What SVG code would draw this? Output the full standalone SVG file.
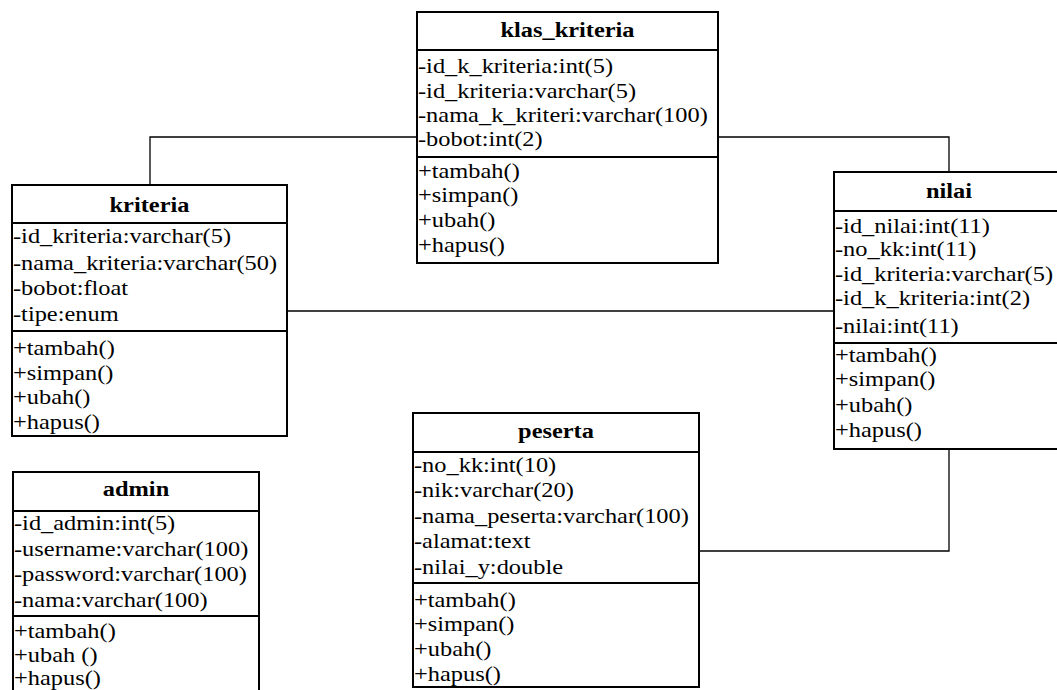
<svg xmlns="http://www.w3.org/2000/svg" width="1057" height="690" viewBox="0 0 1057 690">
<style>
.box{fill:#fff;stroke:#000;stroke-width:2}
.sep{stroke:#000;stroke-width:2}
.t{font-family:"Liberation Serif","Times New Roman",serif;font-size:20px;fill:#000}
.h{font-family:"Liberation Serif","Times New Roman",serif;font-size:20px;font-weight:bold;fill:#000;text-anchor:middle}
.c{fill:none;stroke:#000;stroke-width:1.3}
</style>
<rect width="1057" height="690" fill="#fff"/>
<g id="connectors">
<polyline class="c" points="150,185 150,137 417,137"/>
<polyline class="c" points="718,137 949,137 949,172"/>
<line class="c" x1="287" y1="311" x2="834" y2="311"/>
<polyline class="c" points="699,551 949,551 949,449"/>
</g>
<g id="klas_kriteria">
<rect class="box" x="417" y="12" width="301" height="251"/>
<line class="sep" x1="417" y1="50" x2="718" y2="50"/>
<line class="sep" x1="417" y1="157" x2="718" y2="157"/>
<text class="h" transform="translate(567.5,37) scale(1.22,1)">klas_kriteria</text>
<text class="t" transform="translate(418,73) scale(1.22,1)">-id_k_kriteria:int(5)</text>
<text class="t" transform="translate(418,98) scale(1.22,1)">-id_kriteria:varchar(5)</text>
<text class="t" transform="translate(418,122) scale(1.22,1)">-nama_k_kriteri:varchar(100)</text>
<text class="t" transform="translate(418,146) scale(1.22,1)">-bobot:int(2)</text>
<text class="t" transform="translate(418,178) scale(1.22,1)">+tambah()</text>
<text class="t" transform="translate(418,202) scale(1.22,1)">+simpan()</text>
<text class="t" transform="translate(418,227) scale(1.22,1)">+ubah()</text>
<text class="t" transform="translate(418,252) scale(1.22,1)">+hapus()</text>
</g>
<g id="kriteria">
<rect class="box" x="12" y="185" width="275" height="251"/>
<line class="sep" x1="12" y1="223" x2="287" y2="223"/>
<line class="sep" x1="12" y1="331" x2="287" y2="331"/>
<text class="h" transform="translate(149.5,212) scale(1.22,1)">kriteria</text>
<text class="t" transform="translate(13,243) scale(1.22,1)">-id_kriteria:varchar(5)</text>
<text class="t" transform="translate(13,270) scale(1.22,1)">-nama_kriteria:varchar(50)</text>
<text class="t" transform="translate(13,295) scale(1.22,1)">-bobot:float</text>
<text class="t" transform="translate(13,321) scale(1.22,1)">-tipe:enum</text>
<text class="t" transform="translate(13,355) scale(1.22,1)">+tambah()</text>
<text class="t" transform="translate(13,380) scale(1.22,1)">+simpan()</text>
<text class="t" transform="translate(13,404) scale(1.22,1)">+ubah()</text>
<text class="t" transform="translate(13,429) scale(1.22,1)">+hapus()</text>
</g>
<g id="nilai">
<rect class="box" x="834" y="172" width="240" height="277"/>
<line class="sep" x1="834" y1="211" x2="1057" y2="211"/>
<line class="sep" x1="834" y1="343" x2="1057" y2="343"/>
<text class="h" transform="translate(949,198) scale(1.22,1)">nilai</text>
<text class="t" transform="translate(835,233) scale(1.22,1)">-id_nilai:int(11)</text>
<text class="t" transform="translate(835,256) scale(1.22,1)">-no_kk:int(11)</text>
<text class="t" transform="translate(835,281) scale(1.22,1)">-id_kriteria:varchar(5)</text>
<text class="t" transform="translate(835,305) scale(1.22,1)">-id_k_kriteria:int(2)</text>
<text class="t" transform="translate(835,333) scale(1.22,1)">-nilai:int(11)</text>
<text class="t" transform="translate(835,362) scale(1.22,1)">+tambah()</text>
<text class="t" transform="translate(835,386) scale(1.22,1)">+simpan()</text>
<text class="t" transform="translate(835,412) scale(1.22,1)">+ubah()</text>
<text class="t" transform="translate(835,437) scale(1.22,1)">+hapus()</text>
</g>
<g id="peserta">
<rect class="box" x="413" y="413" width="286" height="274"/>
<line class="sep" x1="413" y1="452" x2="699" y2="452"/>
<line class="sep" x1="413" y1="583" x2="699" y2="583"/>
<text class="h" transform="translate(556,438) scale(1.22,1)">peserta</text>
<text class="t" transform="translate(414,472) scale(1.22,1)">-no_kk:int(10)</text>
<text class="t" transform="translate(414,497) scale(1.22,1)">-nik:varchar(20)</text>
<text class="t" transform="translate(414,523) scale(1.22,1)">-nama_peserta:varchar(100)</text>
<text class="t" transform="translate(414,548) scale(1.22,1)">-alamat:text</text>
<text class="t" transform="translate(414,574) scale(1.22,1)">-nilai_y:double</text>
<text class="t" transform="translate(414,607) scale(1.22,1)">+tambah()</text>
<text class="t" transform="translate(414,631) scale(1.22,1)">+simpan()</text>
<text class="t" transform="translate(414,656) scale(1.22,1)">+ubah()</text>
<text class="t" transform="translate(414,681) scale(1.22,1)">+hapus()</text>
</g>
<g id="admin">
<rect class="box" x="13" y="472" width="246" height="240"/>
<line class="sep" x1="13" y1="511" x2="259" y2="511"/>
<line class="sep" x1="13" y1="616" x2="259" y2="616"/>
<text class="h" transform="translate(136,496) scale(1.22,1)">admin</text>
<text class="t" transform="translate(14,530) scale(1.22,1)">-id_admin:int(5)</text>
<text class="t" transform="translate(14,556) scale(1.22,1)">-username:varchar(100)</text>
<text class="t" transform="translate(14,581) scale(1.22,1)">-password:varchar(100)</text>
<text class="t" transform="translate(14,607) scale(1.22,1)">-nama:varchar(100)</text>
<text class="t" transform="translate(14,638) scale(1.22,1)">+tambah()</text>
<text class="t" transform="translate(14,662) scale(1.22,1)">+ubah ()</text>
<text class="t" transform="translate(14,685) scale(1.22,1)">+hapus()</text>
</g>
</svg>
